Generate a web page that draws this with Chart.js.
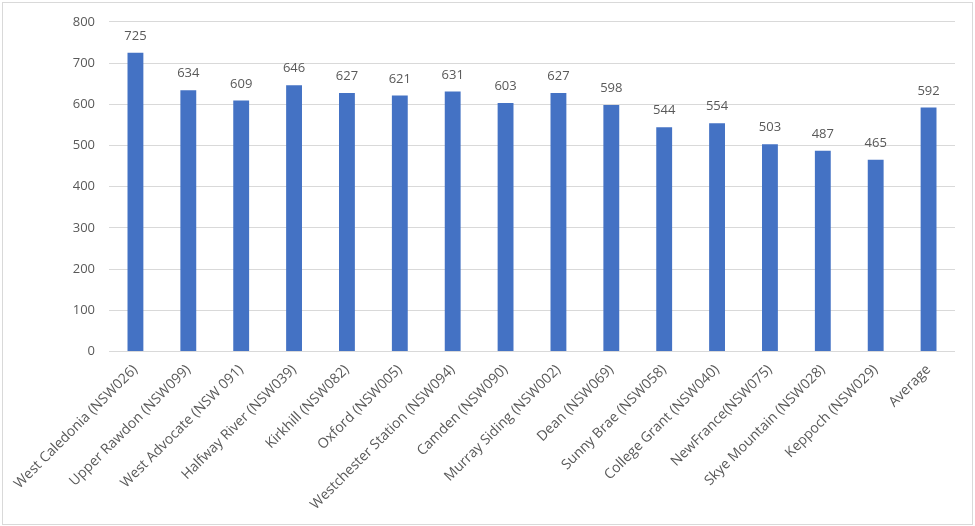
<!DOCTYPE html>
<html>
<head>
<meta charset="utf-8">
<script src="https://cdn.jsdelivr.net/npm/chart.js@4"></script>
<style>
  body { margin: 0; background: #fff; }
  #wrap { position: absolute; left: 2px; top: 2px; width: 969px; height: 521px; border: 1px solid #d9d9d9; }
  #holder { position: absolute; left: 0; top: 0; width: 975px; height: 526px; }
</style>
</head>
<body>
<div id="wrap"></div>
<div id="holder"><canvas id="myChart"></canvas></div>
<script>
// chart data
var sites = ["West Caledonia (NSW026)", "Upper Rawdon (NSW099)", "West Advocate (NSW 091)", "Halfway River (NSW039)",
    "Kirkhill (NSW082)", "Oxford (NSW005)", "Westchester Station (NSW094)", "Camden (NSW090)", "Murray Siding (NSW002)",
    "Dean (NSW069)", "Sunny Brae (NSW058)", "College Grant (NSW040)", "NewFrance(NSW075)", "Skye Mountain (NSW028)",
    "Keppoch (NSW029)", "Average"];
var values = [725, 634, 609, 646, 627, 621, 631, 603, 627, 598, 544, 554, 503, 487, 465, 592];
var yTicks = [0, 100, 200, 300, 400, 500, 600, 700, 800];

var barColor = "#4472C4";
var textColor = "#595959";
var fontFam = "'Open Sans', 'Noto Sans', sans-serif";

// draws the value above each bar
var valueLabels = {
    id: "valueLabels",
    afterDatasetsDraw: function (chart) {
        var ctx = chart.ctx;
        var meta = chart.getDatasetMeta(0);
        ctx.save();
        ctx.fillStyle = textColor;
        ctx.font = "13px " + fontFam;
        ctx.textAlign = "center";
        ctx.textBaseline = "bottom";
        meta.data.forEach(function (bar, i) {
            ctx.fillText(values[i], bar.x, bar.y - 10);
        });
        ctx.restore();
    }
};

new Chart("myChart", {
    type: "bar",
    data: {
        labels: sites,
        datasets: [{
            data: values,
            backgroundColor: barColor,
            categoryPercentage: 1,
            barPercentage: 0.3
        }]
    },
    options: {
        responsive: true,
        maintainAspectRatio: false,
        animation: false,
        layout: { padding: { top: 13, right: 20, bottom: 11, left: 0 } },
        plugins: {
            legend: { display: false },
            tooltip: { enabled: false }
        },
        scales: {
            x: {
                grid: { display: false },
                border: { display: false },
                ticks: {
                    color: textColor,
                    font: { size: 14, family: fontFam },
                    minRotation: 45,
                    maxRotation: 45,
                    autoSkip: false,
                    padding: 2
                }
            },
            y: {
                min: 0,
                max: 800,
                afterFit: function (scale) { scale.width = 109; },
                afterBuildTicks: function (scale) {
                    scale.ticks = yTicks.map(function (v) { return { value: v }; });
                },
                grid: { color: "#d9d9d9", drawTicks: false },
                border: { display: false },
                ticks: {
                    color: textColor,
                    font: { size: 13, family: fontFam },
                    padding: 14
                }
            }
        }
    },
    plugins: [valueLabels]
});
</script>
</body>
</html>
